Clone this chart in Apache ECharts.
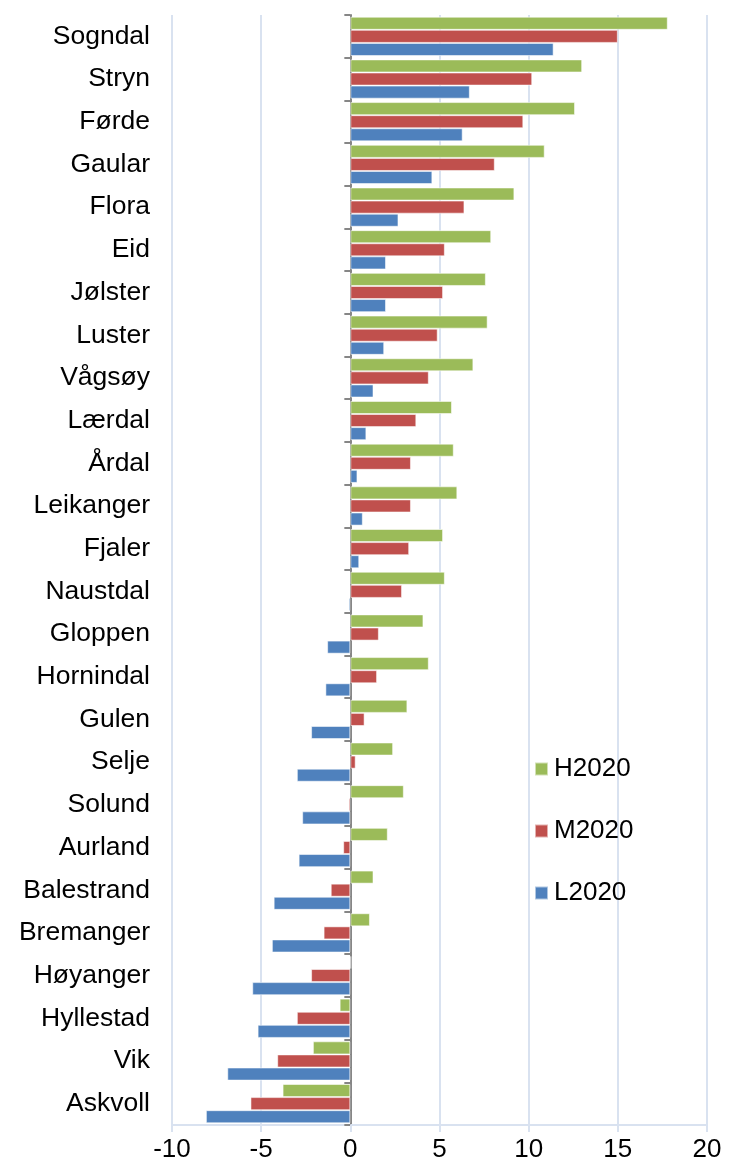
<!DOCTYPE html>
<html>
<head>
<meta charset="utf-8">
<script src="https://cdn.jsdelivr.net/npm/echarts@6/dist/echarts.min.js"></script>
<style>
  html, body { margin: 0; padding: 0; background: #fff; }
  #chart { width: 729px; height: 1167px; }
</style>
</head>
<body>
<div id="chart"></div>
<script>
// Category names, top to bottom
const kommuner = ['Sogndal', 'Stryn', 'Førde', 'Gaular', 'Flora', 'Eid', 'Jølster', 'Luster', 'Vågsøy', 'Lærdal',
    'Årdal', 'Leikanger', 'Fjaler', 'Naustdal', 'Gloppen', 'Hornindal', 'Gulen', 'Selje', 'Solund', 'Aurland',
    'Balestrand', 'Bremanger', 'Høyanger', 'Hyllestad', 'Vik', 'Askvoll'];

// Series values, same order as kommuner
const h2020 = [17.8, 13.0, 12.6, 10.9, 9.2, 7.9, 7.6, 7.7, 6.9, 5.7,
    5.8, 6.0, 5.2, 5.3, 4.1, 4.4, 3.2, 2.4, 3.0, 2.1,
    1.3, 1.1, 0.05, -0.6, -2.1, -3.8];
const m2020 = [15.0, 10.2, 9.7, 8.1, 6.4, 5.3, 5.2, 4.9, 4.4, 3.7,
    3.4, 3.4, 3.3, 2.9, 1.6, 1.5, 0.8, 0.3, -0.1, -0.4,
    -1.1, -1.5, -2.2, -3.0, -4.1, -5.6];
const l2020 = [11.4, 6.7, 6.3, 4.6, 2.7, 2.0, 2.0, 1.9, 1.3, 0.9,
    0.4, 0.7, 0.5, -0.1, -1.3, -1.4, -2.2, -3.0, -2.7, -2.9,
    -4.3, -4.4, -5.5, -5.2, -6.9, -8.1];

const xTicks = { min: -10, max: 20, interval: 5 };

const chart = echarts.init(document.getElementById('chart'));

const barStyle = function (color) {
    return {
        color: color,
        borderColor: 'rgba(255,255,255,0.55)',
        borderWidth: 1
    };
};

var option = {
    textStyle: {
        fontFamily: 'Liberation Sans, Arial, sans-serif'
    },
    grid: {
        top: 15,
        bottom: 42,
        left: 172,
        right: 22
    },
    legend: {
        orient: 'vertical',
        left: 529,
        top: 751,
        itemGap: 36,
        itemWidth: 13,
        itemHeight: 13,
        icon: 'rect',
        data: ['H2020', 'M2020', 'L2020'],
        textStyle: {
            fontSize: 26,
            color: '#000',
            padding: [0, 0, 0, 1]
        }
    },
    xAxis: {
        type: 'value',
        min: xTicks.min,
        max: xTicks.max,
        interval: xTicks.interval,
        axisLine: {
            show: true,
            lineStyle: { color: '#d9e2f0', width: 2 }
        },
        axisTick: {
            show: true,
            length: 7,
            lineStyle: { color: '#d9e2f0', width: 2 }
        },
        splitLine: {
            lineStyle: { color: '#d9e2f0', width: 2 }
        },
        axisLabel: {
            fontSize: 26,
            color: '#000',
            margin: 12
        }
    },
    yAxis: [
        {
            // labels on the left edge
            type: 'category',
            data: kommuner,
            inverse: true,
            axisLine: { show: false, onZero: false },
            axisTick: { show: false },
            axisLabel: {
                fontSize: 26.5,
                color: '#000',
                margin: 22
            }
        },
        {
            // the line at zero with its ticks
            type: 'category',
            data: kommuner,
            inverse: true,
            position: 'left',
            axisLine: {
                show: true,
                onZero: true,
                lineStyle: { color: '#868686', width: 2 }
            },
            axisTick: {
                show: true,
                length: 6,
                lineStyle: { color: '#868686', width: 2 }
            },
            axisLabel: { show: false }
        }
    ],
    series: [
        {
            name: 'H2020',
            type: 'bar',
            data: h2020,
            barGap: '0%',
            barCategoryGap: '8%',
            itemStyle: barStyle('#9bbb59')
        },
        {
            name: 'M2020',
            type: 'bar',
            data: m2020,
            barGap: '0%',
            barCategoryGap: '8%',
            itemStyle: barStyle('#c0504d')
        },
        {
            name: 'L2020',
            type: 'bar',
            data: l2020,
            barGap: '0%',
            barCategoryGap: '8%',
            itemStyle: barStyle('#4f81bd')
        }
    ]
};

chart.setOption(option);
</script>
</body>
</html>
